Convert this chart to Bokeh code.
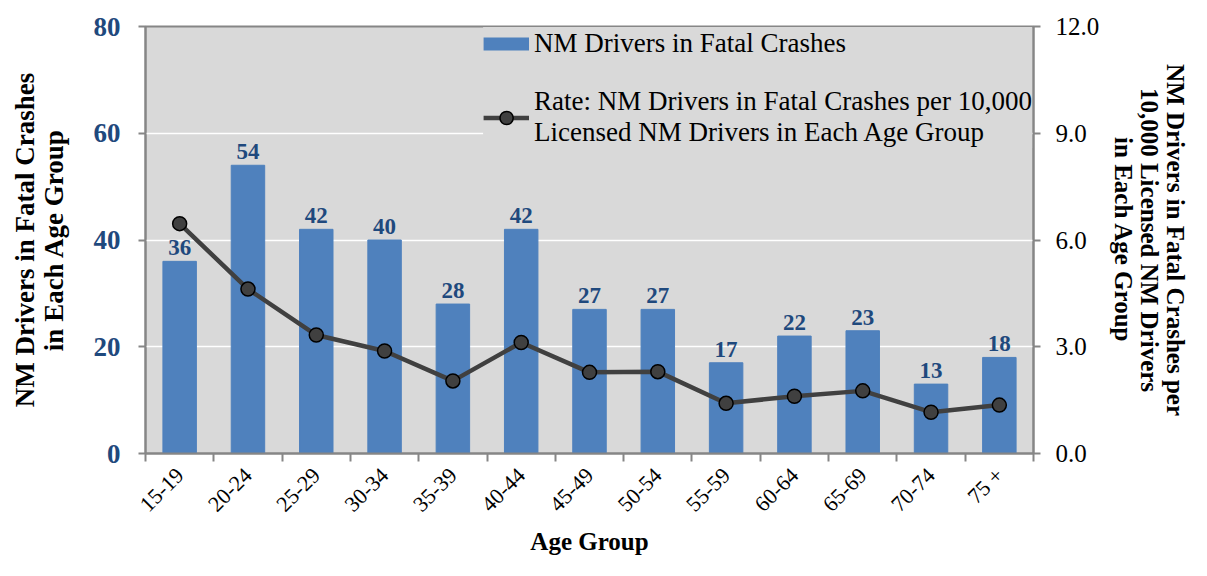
import math
from bokeh.plotting import figure
from bokeh.models import (Range1d, LinearAxis, FixedTicker, ColumnDataSource, LabelSet,
                          Legend, LegendItem, NumeralTickFormatter)
from bokeh.embed import file_html
from bokeh.resources import INLINE

age_groups = ["15-19", "20-24", "25-29", "30-34", "35-39", "40-44", "45-49",
              "50-54", "55-59", "60-64", "65-69", "70-74", "75 +"]
drivers = [36, 54, 42, 40, 28, 42, 27, 27, 17, 22, 23, 13, 18]
rate = [6.46, 4.62, 3.33, 2.88, 2.04, 3.12, 2.28, 2.30, 1.41, 1.61, 1.76, 1.16, 1.36]
left_ticks = [0, 20, 40, 60, 80]
right_ticks = [0, 3, 6, 9, 12]

FONT = "Liberation Serif"
xs = [i + 0.5 for i in range(len(age_groups))]
src = ColumnDataSource(dict(x=xs, drivers=drivers, rate=rate,
                            lbl=[str(v) for v in drivers]))

p = figure(width=1191, height=560, output_backend="svg", toolbar_location=None,
           x_range=Range1d(0, len(age_groups)), y_range=Range1d(0, 80),
           min_border_left=145, min_border_right=151, min_border_top=26,
           min_border_bottom=107, x_axis_location=None, y_axis_location=None)
p.background_fill_color = "#D9D9D9"
p.border_fill_color = "white"
p.outline_line_color = "#868686"
p.outline_line_width = 2
p.extra_y_ranges = {"rate": Range1d(0, 12)}

# x axis
xaxis = LinearAxis(ticker=FixedTicker(ticks=xs, minor_ticks=list(range(len(age_groups) + 1))))
xaxis.major_label_overrides = {x: g for x, g in zip(xs, age_groups)}
xaxis.major_tick_out = 0
xaxis.major_tick_in = 0
xaxis.minor_tick_out = 8
xaxis.minor_tick_in = 0
xaxis.minor_tick_line_color = "#868686"
xaxis.minor_tick_line_width = 2
xaxis.axis_line_color = "#868686"
xaxis.axis_line_width = 2
xaxis.major_label_orientation = math.pi / 4
xaxis.major_label_text_font = FONT
xaxis.major_label_text_font_size = "22px"
xaxis.major_label_text_color = "black"
xaxis.major_label_standoff = 10
xaxis.axis_label = "Age Group"
xaxis.axis_label_text_font = FONT
xaxis.axis_label_text_font_style = "bold"
xaxis.axis_label_text_font_size = "25px"
xaxis.axis_label_text_color = "black"
xaxis.axis_label_standoff = 0
p.add_layout(xaxis, "below")

# left axis
yaxis = LinearAxis(ticker=FixedTicker(ticks=left_ticks))
yaxis.major_tick_out = 7
yaxis.major_tick_in = 0
yaxis.minor_tick_out = 0
yaxis.minor_tick_in = 0
yaxis.major_tick_line_color = "#868686"
yaxis.major_tick_line_width = 2
yaxis.axis_line_color = "#868686"
yaxis.axis_line_width = 2
yaxis.major_label_text_font = FONT
yaxis.major_label_text_font_size = "27px"
yaxis.major_label_text_font_style = "bold"
yaxis.major_label_text_color = "#1F497D"
yaxis.major_label_standoff = 18
yaxis.axis_label = "NM Drivers in Fatal Crashes\nin Each Age Group"
yaxis.axis_label_text_font = FONT
yaxis.axis_label_text_font_style = "bold"
yaxis.axis_label_text_font_size = "27px"
yaxis.axis_label_text_color = "black"
yaxis.axis_label_text_line_height = 0.95
yaxis.axis_label_standoff = 22
p.add_layout(yaxis, "left")

# right axis
raxis = LinearAxis(y_range_name="rate", ticker=FixedTicker(ticks=right_ticks),
                   formatter=NumeralTickFormatter(format="0.0"))
raxis.major_tick_out = 7
raxis.major_tick_in = 0
raxis.minor_tick_out = 0
raxis.minor_tick_in = 0
raxis.major_tick_line_color = "#868686"
raxis.major_tick_line_width = 2
raxis.axis_line_color = "#868686"
raxis.axis_line_width = 2
raxis.major_label_text_font = FONT
raxis.major_label_text_font_size = "25px"
raxis.major_label_text_color = "black"
raxis.major_label_standoff = 15
raxis.axis_label = "NM Drivers in Fatal Crashes per\n10,000 Licensed NM Drivers\nin Each Age Group"
raxis.axis_label_text_font = FONT
raxis.axis_label_text_font_style = "bold"
raxis.axis_label_text_font_size = "25px"
raxis.axis_label_text_color = "black"
raxis.axis_label_text_line_height = 0.95
raxis.axis_label_standoff = 8
p.add_layout(raxis, "right")

p.xgrid.visible = False
p.ygrid.ticker = FixedTicker(ticks=left_ticks)
p.ygrid.grid_line_color = "white"
p.ygrid.grid_line_width = 1.5

bars = p.vbar(x="x", top="drivers", width=0.49, source=src,
              fill_color="#4F81BD", line_color="#4F81BD")
line = p.line(x="x", y="rate", source=src, y_range_name="rate",
              line_color="#404040", line_width=4.5)
dots = p.scatter(x="x", y="rate", source=src, y_range_name="rate", size=14,
                 fill_color="#404040", line_color="black", line_width=1.5)

# legend swatch for the bar series: a thick line (not drawn in the plot: NaN point)
bar_swatch = p.line(x=[float("nan")], y=[float("nan")], line_color="#4F81BD",
                    line_width=13)

labels = LabelSet(x="x", y="drivers", text="lbl", source=src, y_offset=6,
                  text_align="center", text_baseline="bottom",
                  text_font=FONT, text_font_style="bold",
                  text_font_size="23px", text_color="#1F497D")
p.add_layout(labels)

legend = Legend(items=[
    LegendItem(label="NM Drivers in Fatal Crashes", renderers=[bar_swatch]),
    LegendItem(label="Rate: NM Drivers in Fatal Crashes per 10,000\nLicensed NM Drivers in Each Age Group",
               renderers=[line, dots]),
], location="top_right")
legend.background_fill_color = "#D9D9D9"
legend.background_fill_alpha = 1.0
legend.border_line_color = None
legend.margin = 1
legend.padding = 9
legend.spacing = 26
legend.glyph_width = 46
legend.glyph_height = 33
legend.label_standoff = 5
legend.label_text_font = FONT
legend.label_text_font_size = "27px"
legend.label_text_line_height = 1.05
legend.label_text_color = "black"
p.add_layout(legend)

open("out.html", "w").write(file_html(p, INLINE))
